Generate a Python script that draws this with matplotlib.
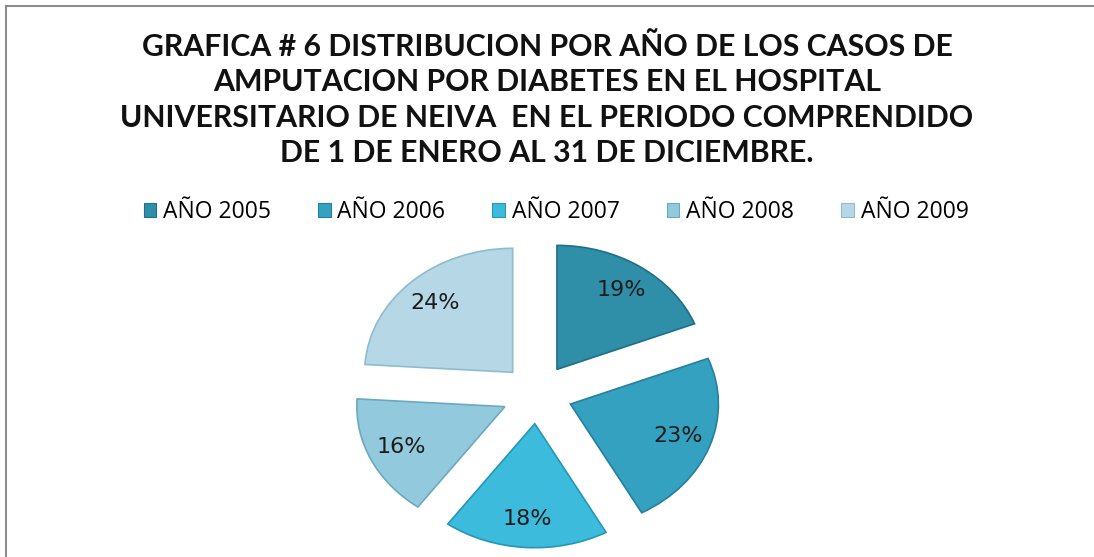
import matplotlib
matplotlib.use('Agg')
import matplotlib.pyplot as plt
from matplotlib.patches import Rectangle
from matplotlib.lines import Line2D

# data
years = ['AÑO 2005', 'AÑO 2006', 'AÑO 2007', 'AÑO 2008', 'AÑO 2009']
shares = [19, 23, 18, 16, 24]
colors = ['#2f8ea8', '#35a1c1', '#3dbbdc', '#92c9dd', '#b6d8e6']
edge_colors = ['#1f6f86', '#24809c', '#2596b5', '#6aa9c0', '#8dbccd']

title = ('GRAFICA # 6 DISTRIBUCION POR AÑO DE LOS CASOS DE\n'
         'AMPUTACION POR DIABETES EN EL HOSPITAL\n'
         'UNIVERSITARIO DE NEIVA  EN EL PERIODO COMPRENDIDO\n'
         'DE 1 DE ENERO AL 31 DE DICIEMBRE.')

W, H = 1094, 557
fig = plt.figure(figsize=(W / 100, H / 100), dpi=100)
fig.patch.set_facecolor('white')

# pie axes spans the whole figure; limits chosen so the pie is squashed like the original
cx, cy = 537, 394        # pie centre in pixels (from top-left)
rx, ry = 148, 124        # radius in pixels
ax = fig.add_axes([0, 0, 1, 1])
wedges, texts, autotexts = ax.pie(
    shares, startangle=90, counterclock=False,
    explode=[0.24] * len(shares), colors=colors,
    autopct='%1.0f%%', pctdistance=0.77,
    wedgeprops=dict(linewidth=1.2),
    textprops=dict(fontsize=16, color='#1c1c1c', family='DejaVu Sans'))
for w, ec in zip(wedges, edge_colors):
    w.set_edgecolor(ec)
ax.set_aspect('auto')
ax.set_xlim(-cx / rx, (W - cx) / rx)
ax.set_ylim(-(H - cy) / ry, cy / ry)
ax.axis('off')

# border of the chart area (only the top and left edges are visible in the crop)
fig.add_artist(Line2D([5.5 / W, 5.5 / W], [0, 1 - 6 / H], transform=fig.transFigure,
                      color='#8c8c8c', lw=1.5))
fig.add_artist(Line2D([5.5 / W, 1], [1 - 6 / H, 1 - 6 / H], transform=fig.transFigure,
                      color='#8c8c8c', lw=1.5))

fig.text(0.5, 1 - 100 / H, title, ha='center', va='center', fontsize=21.8,
         fontweight='bold', family='Lato', color='#111111', linespacing=1.33)

handles = [Rectangle((0, 0), 1, 1, facecolor=c, edgecolor=e, lw=0.8)
           for c, e in zip(colors, edge_colors)]
fig.legend(handles, years, loc='center', bbox_to_anchor=(556 / W, 1 - 212 / H),
           ncol=5, frameon=False, prop=dict(family='Open Sans', size=16.5),
           handlelength=0.55, handleheight=0.55, handletextpad=0.3,
           columnspacing=2.05)

fig.savefig('out.png', dpi=100)
